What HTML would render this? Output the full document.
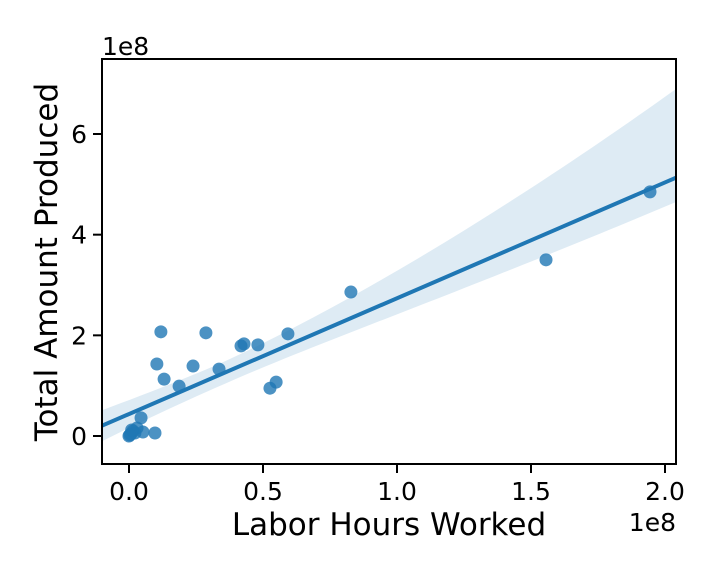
<!DOCTYPE html>
<html><head><meta charset="utf-8"><style>
body{margin:0;background:#fff;}
svg text{font-family:"DejaVu Sans","Liberation Sans",sans-serif;fill:#000;}
</style></head><body>
<svg id="chart" width="720" height="576" viewBox="0 0 720 576" xmlns="http://www.w3.org/2000/svg"></svg>
<script>
const xVals=[0.119,0.104,0.131,0.187,0.239,0.287,0.336,0.418,0.429,0.481,0.593,0.526,0.549,0.828,1.556,1.944,0.045,0.097,0.052,0.030,0.015,0.0,0.007,0.022,0.003,0.010];
const yVals=[2.07,1.43,1.13,0.99,1.39,2.05,1.33,1.79,1.83,1.81,2.03,0.95,1.07,2.86,3.50,4.85,0.36,0.06,0.08,0.16,0.10,0.0,0.04,0.06,0.02,0.12];
const xTicks=[0,0.5,1.0,1.5,2.0];
const xTickLabels=["0.0","0.5","1.0","1.5","2.0"];
const yTicks=[0,2,4,6];
const yTickLabels=["0","2","4","6"];
const NS="http://www.w3.org/2000/svg";
const svg=document.getElementById('chart');
const L=102,R=676,T=59,B=464;
const xMin=-0.1007,xMax=2.041,yMin=-0.556,yMax=7.49;
const sx=v=>L+(v-xMin)/(xMax-xMin)*(R-L);
const sy=v=>B-(v-yMin)/(yMax-yMin)*(B-T);
function mk(tag,attrs){const e=document.createElementNS(NS,tag);for(const k in attrs)e.setAttribute(k,attrs[k]);svg.appendChild(e);return e;}
const n=xVals.length;
const mx=xVals.reduce((a,b)=>a+b)/n,my=yVals.reduce((a,b)=>a+b)/n;
let sxx=0,sxy=0;for(let i=0;i<n;i++){sxx+=(xVals[i]-mx)**2;sxy+=(xVals[i]-mx)*(yVals[i]-my);}
const slope=sxy/sxx,icpt=my-slope*mx;
let sse=0;for(let i=0;i<n;i++){sse+=(yVals[i]-icpt-slope*xVals[i])**2;}
const s=Math.sqrt(sse/(n-2)),t=2.06;
const up=[],lo=[];
for(let k=0;k<=60;k++){const x=xMin+(xMax-xMin)*k/60;const yh=icpt+slope*x;const se=s*Math.sqrt(1/n+(x-mx)**2/sxx)*t;
const d=Math.max(0,x-mx);
up.push(sx(x)+','+sy(yh+se*(1+0.65*d)));lo.unshift(sx(x)+','+sy(yh-se*(1-0.25*d)));}
const band=mk('polygon',{points:up.concat(lo).join(' '),fill:'#1f77b4','fill-opacity':0.15});


xVals.forEach((x,i)=>{const c=mk('circle',{cx:sx(x),cy:sy(yVals[i]),r:6.5,fill:'#1f77b4','fill-opacity':0.8});

});
const ln=mk('line',{x1:sx(xMin),y1:sy(icpt+slope*xMin),x2:sx(xMax),y2:sy(icpt+slope*xMax),stroke:'#1f77b4','stroke-width':4});


const fr=mk('rect',{x:L,y:T,width:R-L,height:B-T,fill:'none',stroke:'#000','stroke-width':2});


xTicks.forEach((v,i)=>{const x=sx(v);mk('line',{x1:x,y1:B,x2:x,y2:B+9,stroke:'#000','stroke-width':2});
const tx=mk('text',{x:x,y:B+36,'font-size':25,'text-anchor':'middle'});tx.textContent=xTickLabels[i];

});
yTicks.forEach((v,i)=>{const y=sy(v);mk('line',{x1:L-9,y1:y,x2:L,y2:y,stroke:'#000','stroke-width':2});
const tx=mk('text',{x:L-15,y:y+9,'font-size':25,'text-anchor':'end'});tx.textContent=yTickLabels[i];

});
</script>
<svg style="position:absolute;left:0;top:0" width="720" height="576">
<text x="102" y="55" font-size="25">1e8</text>
<text x="676" y="531" font-size="25" text-anchor="end">1e8</text>
<text x="389" y="535" font-size="31" text-anchor="middle">Labor Hours Worked</text>
<text x="57" y="262" font-size="31" text-anchor="middle" transform="rotate(-90 57 262)">Total Amount Produced</text>
</svg>
</body></html>
